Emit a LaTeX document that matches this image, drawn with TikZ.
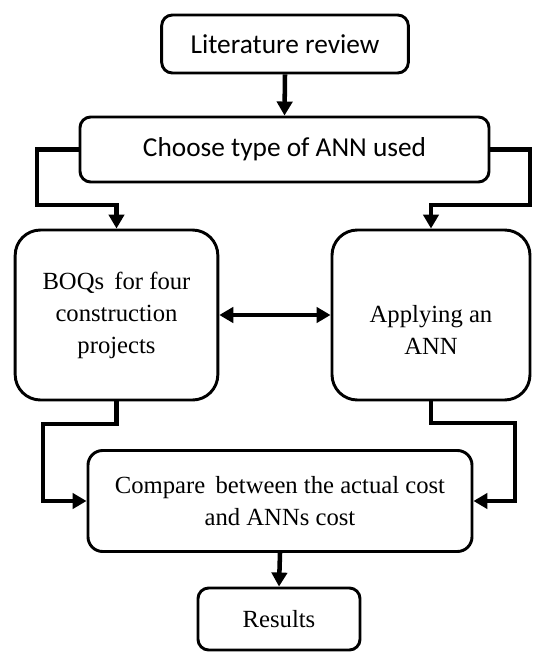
\documentclass[tikz,border=0pt]{standalone}
\usepackage{fontspec}
\setmainfont{Liberation Serif}
\newfontfamily\calib{Carlito}
\usetikzlibrary{arrows.meta}
\begin{document}
\begin{tikzpicture}[x=0.75pt,y=-0.75pt,
  box/.style={draw=black,line width=2.2pt,fill=white,inner sep=0pt,align=center},
  sansbox/.style={box,font=\calib\fontsize{20.5}{24}\selectfont},
  serifbox/.style={box,font=\fontsize{18.5}{24}\selectfont},
  conn/.style={line width=3.4pt,line join=miter,-{Triangle[length=10.5pt,width=11.5pt]}},
  dconn/.style={line width=3.4pt,{Triangle[length=10.5pt,width=11.5pt]}-{Triangle[length=10.5pt,width=11.5pt]}}
]
\useasboundingbox (0,0) rectangle (534,653);

\node[sansbox,rounded corners=8pt,minimum width=185pt,minimum height=43.5pt] (lit) at (285,44) {Literature review};
\node[sansbox,rounded corners=8pt,minimum width=306.75pt,minimum height=48.75pt] (choose) at (284.5,149.5) {Choose type of ANN used};
\node[serifbox,rounded corners=19pt,minimum width=152pt,minimum height=127.5pt] (boq) at (116.5,315) {BOQs\, for four\\construction\\projects};
\node[serifbox,rounded corners=19pt,minimum width=148.5pt,minimum height=127.5pt,
  label={[yshift=-11pt,align=center,font=\fontsize{18.5}{24}\selectfont]center:Applying an\\ANN}] (apply) at (431,315) {};
\node[serifbox,rounded corners=11pt,minimum width=288pt,minimum height=75.75pt] (compare) at (280,501) {Compare\, between the actual cost\\and ANNs cost};
\node[serifbox,rounded corners=8pt,minimum width=121.5pt,minimum height=46.5pt] (results) at (279,619) {Results};

\draw[conn] (lit.south) -- (choose.north);
\draw[conn] (choose.west) -- (37,149.5) -- (37,205) -- (116.5,205) -- (boq.north);
\draw[conn] (choose.east) -- (530,149.5) -- (530,205) -- (431,205) -- (apply.north);
\draw[dconn] (boq.east) -- (apply.west);
\draw[conn] (boq.south) -- (116.5,424) -- (43,424) |- (compare.west);
\draw[conn] (apply.south) -- (431,423) -- (515,423) |- (compare.east);
\draw[conn] (compare.south) -- (results.north);
\end{tikzpicture}
\end{document}
